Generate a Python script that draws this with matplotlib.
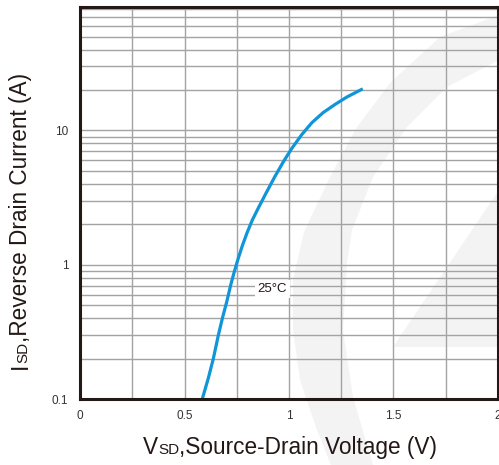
import numpy as np
import matplotlib
matplotlib.use("Agg")
import matplotlib.pyplot as plt
from matplotlib.patches import Polygon
from matplotlib.ticker import FixedLocator, NullFormatter, LogLocator

plt.rcParams["font.family"] = ["Liberation Sans", "DejaVu Sans"]

# Reverse diode curve at 25 C
vsd = [0.585, 0.614, 0.638, 0.662, 0.681, 0.702, 0.721, 0.738, 0.756, 0.777,
       0.800, 0.825, 0.853, 0.893, 0.933, 0.973, 1.013, 1.061, 1.109, 1.164,
       1.220, 1.276, 1.353]
isd = [0.100, 0.143, 0.200, 0.299, 0.398, 0.529, 0.705, 0.884, 1.10, 1.39,
       1.74, 2.16, 2.64, 3.48, 4.55, 5.84, 7.33, 9.30, 11.4, 13.6,
       15.6, 17.7, 20.4]
curve_label = "25°C"
curve_label_pos = (0.919, 0.658)

x_ticks = [0, 0.5, 1, 1.5, 2]
x_tick_labels = ["0", "0.5", "1", "1.5", "2"]
y_ticks = [0.1, 1, 10]
y_tick_labels = ["0.1", "1", "10"]

W, H = 499, 465
fig = plt.figure(figsize=(W / 100, H / 100), dpi=100)
fig.patch.set_facecolor("white")


def px(x, y):
    return (x / W, 1 - y / H)


# faint background watermark (logo swoosh)
wm = "#f3f3f3"
outer = [(499, 15), (440, 37), (390, 83), (357, 127), (330, 177), (304, 232),
         (293, 280), (293, 330), (300, 380), (317, 430), (331, 465)]
inner = [(373, 465), (353, 397), (343, 330), (347, 263), (352, 230),
         (373, 177), (407, 127), (447, 87), (499, 60)]
fig.patches.append(Polygon([px(*p) for p in outer + inner], closed=True,
                           transform=fig.transFigure, facecolor=wm,
                           edgecolor="none", zorder=-5))
tri = [(393, 347), (499, 347), (499, 190)]
fig.patches.append(Polygon([px(*p) for p in tri], closed=True,
                           transform=fig.transFigure, facecolor=wm,
                           edgecolor="none", zorder=-5))

ax = fig.add_axes([80 / W, 1 - 399 / H, 418 / W, 392 / H])
ax.set_facecolor("none")
ax.set_yscale("log")
ax.set_xlim(0, 2)
ax.set_ylim(0.1, 83)

ax.xaxis.set_major_locator(FixedLocator(x_ticks))
ax.set_xticklabels(x_tick_labels)
ax.xaxis.set_minor_locator(FixedLocator([0.25, 0.75, 1.25, 1.75]))
ax.yaxis.set_major_locator(FixedLocator(y_ticks))
ax.set_yticklabels(y_tick_labels)
ax.yaxis.set_minor_locator(LogLocator(base=10, subs=np.arange(2, 10)))
ax.yaxis.set_minor_formatter(NullFormatter())

ax.grid(True, which="both", color="#a3a3a3", linewidth=1.0)
ax.set_axisbelow(True)
ax.tick_params(which="both", length=0, labelsize=8.5, colors="#333333")
ax.tick_params(axis="x", pad=8)
ax.tick_params(axis="y", pad=8.5)
for sp in ax.spines.values():
    sp.set_color("#231815")
    sp.set_linewidth(2.2)
    sp.set_zorder(5)

ax.plot(vsd, isd, color="#0f95d8", linewidth=2.3, solid_capstyle="butt",
        solid_joinstyle="round", zorder=4)
ax.text(curve_label_pos[0], curve_label_pos[1], curve_label, fontsize=9.5,
        color="#231815", ha="center", va="center", zorder=4,
        bbox=dict(facecolor="white", edgecolor="none", pad=2))


def rich_label(pieces, center, rotation=0):
    # pieces of text with different sizes sharing one baseline
    r = fig.canvas.get_renderer()
    arts, lens = [], []
    for s, size in pieces:
        t = fig.text(0, 0, s, fontsize=size, color="#231815", ha="left",
                     va="baseline", rotation=rotation, rotation_mode="anchor")
        bb = t.get_window_extent(r)
        lens.append(bb.height if rotation else bb.width)
        arts.append(t)
    total = sum(lens)
    cx, cy = center
    pos = -total / 2
    for t, ln in zip(arts, lens):
        if rotation:
            t.set_position(px(cx, cy - pos))
        else:
            t.set_position(px(cx + pos, cy))
        pos += ln


rich_label([("V", 16.3), ("SD", 11), (",Source-Drain Voltage (V)", 16.3)], (290, 454))
rich_label([("I", 16.3), ("SD", 11), (",Reverse Drain Current (A)", 16.3)], (27, 221), rotation=90)

fig.savefig("out.png", dpi=100)
